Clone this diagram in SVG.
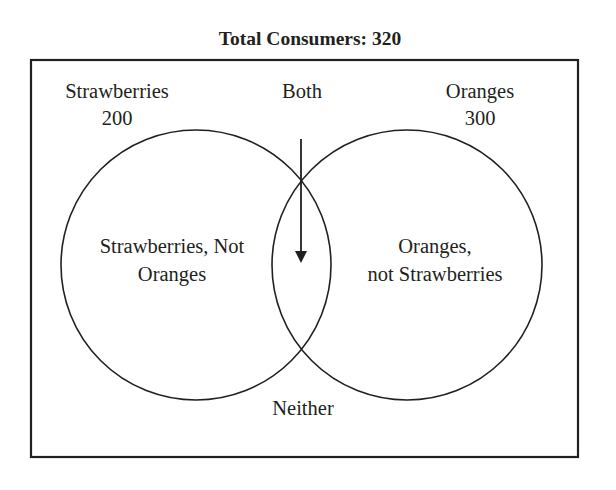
<svg xmlns="http://www.w3.org/2000/svg" width="616" height="490" viewBox="0 0 616 490">
<style>
text{font-family:"Liberation Serif","Times New Roman",serif;font-size:20.5px;fill:#231f20;text-anchor:middle}
.title{font-weight:bold;font-size:19.5px}
.c{fill:none;stroke:#231f20;stroke-width:1.6}
</style>
<rect width="616" height="490" fill="#fff"/>
<text class="title" x="310" y="45">Total Consumers: 320</text>
<g id="frame"><rect x="31" y="60" width="547" height="397" fill="none" stroke="#231f20" stroke-width="2.2"/></g>
<g id="strawberries">
<circle class="c" cx="196" cy="265" r="135"/>
<text x="117" y="98">Strawberries</text>
<text x="117" y="125">200</text>
<text x="172" y="253">Strawberries, Not</text>
<text x="172" y="281">Oranges</text>
</g>
<g id="oranges">
<circle class="c" cx="407" cy="265" r="135"/>
<text x="480" y="98">Oranges</text>
<text x="480" y="125">300</text>
<text x="435" y="253">Oranges,</text>
<text x="435" y="281">not Strawberries</text>
</g>
<g id="both"><text x="302" y="98">Both</text></g>
<g id="neither"><text x="303" y="415">Neither</text></g>
<g id="connectors">
<line x1="301" y1="139" x2="301" y2="252" stroke="#231f20" stroke-width="1.8"/>
<path d="M295,251 L307,251 L301,263 Z" fill="#231f20"/>
</g>
</svg>
